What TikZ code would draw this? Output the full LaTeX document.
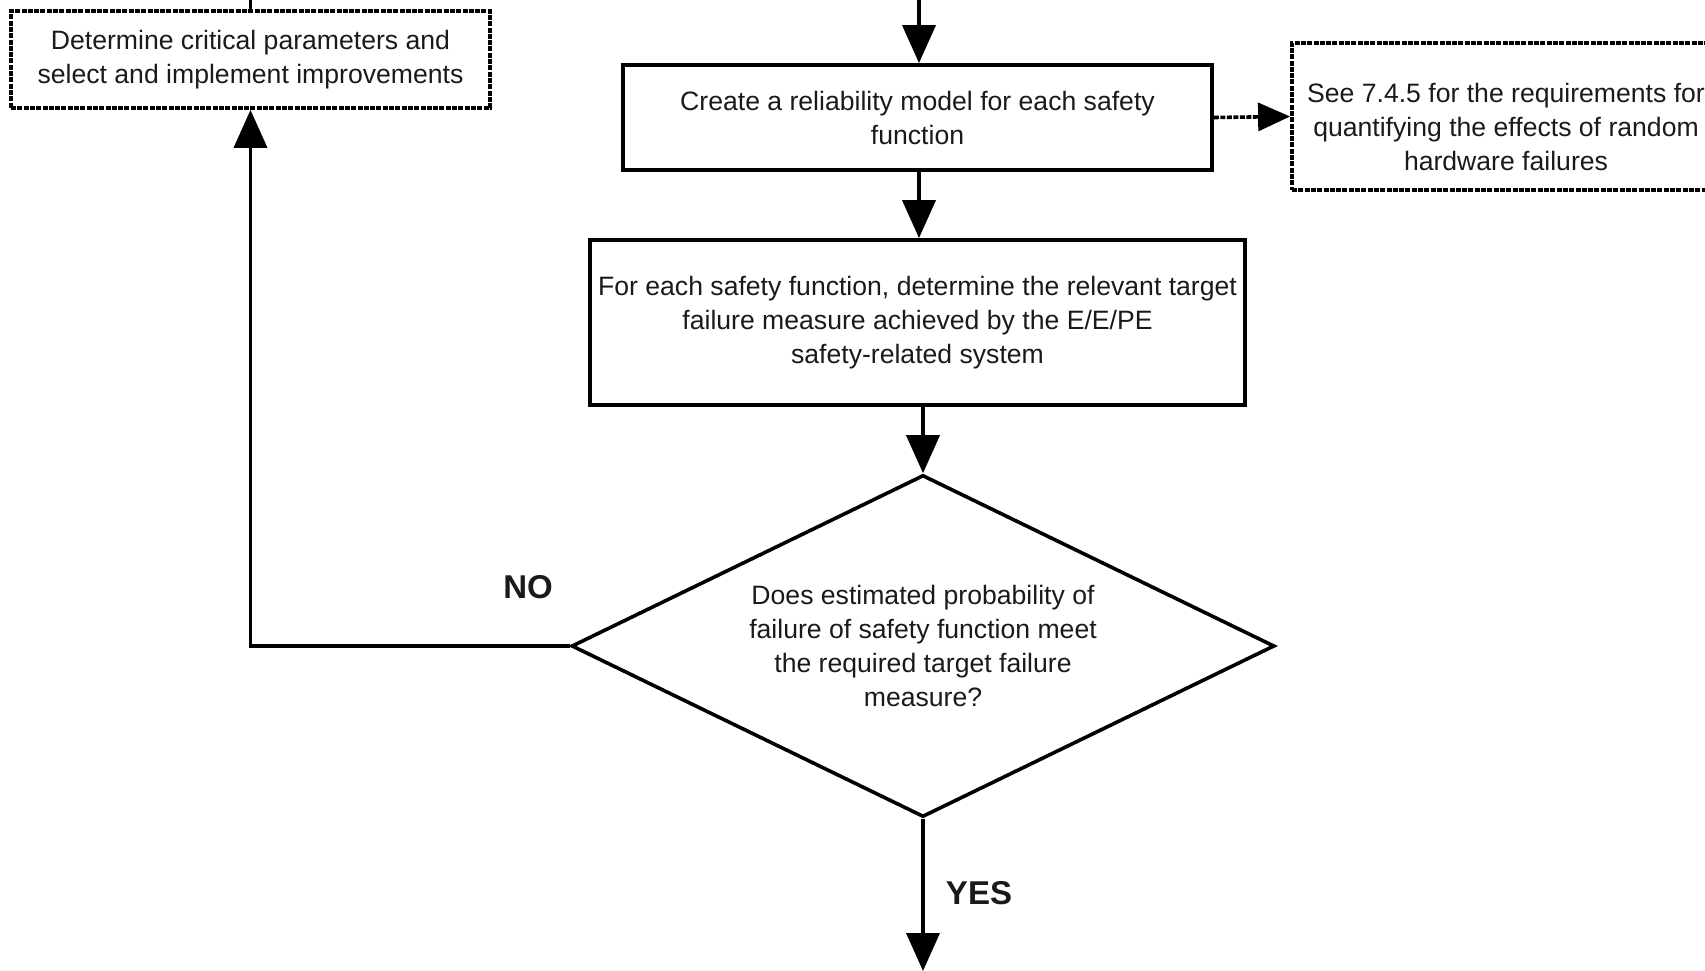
\documentclass[tikz,border=0pt]{standalone}
\usepackage{fontspec}
\setmainfont{Liberation Sans}
\usetikzlibrary{arrows.meta,shapes.geometric}
\definecolor{ink}{HTML}{1A1A1A}
\begin{document}
\begin{tikzpicture}[x=1pt,y=-1pt,
  every node/.style={text=ink,font=\fontsize{26.6}{34}\selectfont},
  procbox/.style={draw=black,line width=3.8pt,align=center,inner sep=0pt},
  notebox/.style={draw=black,line width=3.8pt,dash pattern=on 5pt off 1.3pt,align=center,inner sep=0pt},
  decision/.style={draw=black,line width=3.6pt,diamond,inner sep=0pt},
  flow/.style={draw=black,line width=3.8pt,-{Triangle[length=38pt,width=33pt]}},
  noteflow/.style={draw=black,line width=3.6pt,dash pattern=on 5pt off 1.5pt,-{Triangle[length=32pt,width=28pt,sep=0pt]}},
  plain/.style={draw=black,line width=3.8pt},
  answer/.style={font=\fontsize{33}{40}\bfseries\selectfont}]
\useasboundingbox (0,0) rectangle (1705,971);

% process steps
\node[notebox,minimum width=479pt,minimum height=97pt] (improve) at (250.5,59.5)
  {Determine critical parameters and\\select and implement improvements};
\node[procbox,minimum width=589pt,minimum height=105pt] (create) at (917.5,117.5)
  {Create a reliability model for each safety\\function};
\node[notebox,minimum width=428pt,minimum height=147pt] (see) at (1506,116.5)
  {\raisebox{-13pt}[\height][\depth]{\begin{tabular}{@{}c@{}}See 7.4.5 for the requirements for\\quantifying the effects of random\\hardware failures\end{tabular}}};
\node[procbox,minimum width=655pt,minimum height=165pt] (foreach) at (917.5,322.5)
  {For each safety function, determine the relevant target\\failure measure achieved by the E/E/PE\\safety-related system};

% decision: outline and its question
\node[decision,minimum width=703pt,minimum height=342pt] (check) at (923,646) {};
\node[align=center] (question) at (check.center)
  {Does estimated probability of\\failure of safety function meet\\the required target failure\\measure?};

% branch labels
\node[answer] (no) at (528,587) {NO};
\node[answer] (yes) at (979,893) {YES};

% loose ends of the flow
\coordinate (enter) at (919,0);
\coordinate (loopin) at (250.5,0);
\coordinate (leave) at (923,971);

% connectors
\draw[flow] (enter) -- (create.north -| enter);
\draw[plain] (loopin) -- (improve.north);
\draw[flow] (create.south -| enter) -- (foreach.north -| enter);
\draw[flow] (foreach.south -| check.north) -- (check.north);
\draw[noteflow] (create.east) -- (see.west);
\draw[flow] (check.west) -| (improve.south);
\draw[flow] (check.south) -- (leave);
\end{tikzpicture}
\end{document}
